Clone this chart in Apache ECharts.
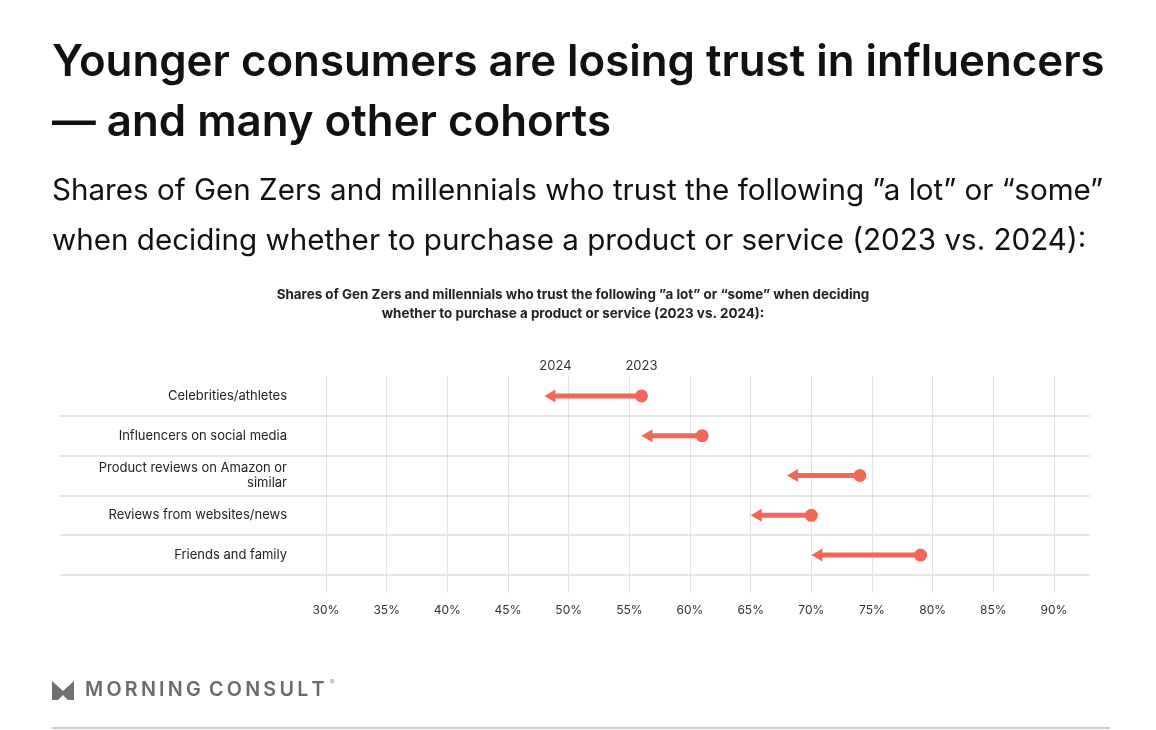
<!DOCTYPE html>
<html>
<head>
<meta charset="utf-8">
<script src="https://cdn.jsdelivr.net/npm/echarts@6/dist/echarts.min.js"></script>
<style>
  html, body { margin: 0; padding: 0; background: #fff; }
  #chart { width: 1156px; height: 730px; }
</style>
</head>
<body>
<div id="chart"></div>
<script>
const categories = [
  'Celebrities/athletes',
  'Influencers on social media',
  'Product reviews on Amazon or\nsimilar',
  'Reviews from websites/news',
  'Friends and family'
];
const share2023 = [56, 61, 74, 70, 79];
const share2024 = [48, 56, 68, 65, 70];
const xTicks = [30, 90, 5];

const FONT = 'Inter';
const RED = '#f4665a';

const chart = echarts.init(document.getElementById('chart'));

const arrowData = categories.map((c, i) => [i, share2023[i], share2024[i]]);

// letter-spaced wordmark
const spaced = s => s.split('').join('\u2009');

const option = {
  backgroundColor: '#fff',
  animation: false,
  textStyle: { fontFamily: FONT },
  title: [
    {
      text: 'Younger consumers are losing trust in influencers\n— and many other cohorts',
      left: 52, top: 33, padding: 0,
      textStyle: { fontSize: 43.8, fontWeight: 600, color: '#111', lineHeight: 60, fontFamily: FONT }
    },
    {
      text: 'Shares of Gen Zers and millennials who trust the following ”a lot” or “some”\nwhen deciding whether to purchase a product or service (2023 vs. 2024):',
      left: 52, top: 166, padding: 0,
      textStyle: { fontSize: 29.6, fontWeight: 'normal', color: '#111', lineHeight: 50, fontFamily: FONT }
    },
    {
      text: 'Shares of Gen Zers and millennials who trust the following ”a lot” or “some” when deciding\nwhether to purchase a product or service (2023 vs. 2024):',
      left: 573, top: 285, padding: 0, textAlign: 'center',
      textStyle: { fontSize: 13.4, fontWeight: 'bold', color: '#222', lineHeight: 19, fontFamily: FONT }
    }
  ],
  grid: [
    { left: 60, right: 66, top: 376, height: 199 },
    { left: 326, right: 102, top: 376, height: 199 }
  ],
  xAxis: [
    { gridIndex: 0, type: 'value', min: 0, max: 1, show: false },
    {
      gridIndex: 1, type: 'value', min: xTicks[0], max: xTicks[1], interval: xTicks[2],
      axisLine: { show: false },
      axisTick: { show: true, length: 18, lineStyle: { color: '#e3e3e3' } },
      splitLine: { show: true, lineStyle: { color: '#e3e3e3', width: 1 } },
      axisLabel: { formatter: '{value}%', margin: 29, fontSize: 12, color: '#333', fontFamily: FONT }
    }
  ],
  yAxis: [
    {
      gridIndex: 0, type: 'value', min: 0, max: 5, interval: 1, inverse: true,
      axisLine: { show: false }, axisTick: { show: false }, axisLabel: { show: false },
      splitLine: { show: true, showMinLine: false, showMaxLine: true, lineStyle: { color: '#dedede', width: 1.5 } }
    },
    {
      gridIndex: 1, type: 'category', data: categories, inverse: true,
      axisLine: { show: false }, axisTick: { show: false }, splitLine: { show: false },
      axisLabel: { margin: 39, fontSize: 13, color: '#222', lineHeight: 15, align: 'right', fontFamily: FONT }
    }
  ],
  series: [
    {
      type: 'custom',
      xAxisIndex: 1, yAxisIndex: 1,
      data: arrowData,
      encode: { x: [1, 2], y: 0 },
      renderItem: function (params, api) {
        const row = api.value(0);
        const from = api.coord([api.value(1), row]);
        const to = api.coord([api.value(2), row]);
        const headLen = 11, headHalf = 6.5;
        const children = [
          {
            type: 'line',
            shape: { x1: from[0], y1: from[1], x2: to[0] + headLen - 1, y2: to[1] },
            style: { stroke: RED, lineWidth: 5 }
          },
          {
            type: 'polygon',
            shape: { points: [[to[0], to[1]], [to[0] + headLen, to[1] - headHalf], [to[0] + headLen, to[1] + headHalf]] },
            style: { fill: RED }
          },
          {
            type: 'circle',
            shape: { cx: from[0], cy: from[1], r: 6.5 },
            style: { fill: RED }
          }
        ];
        if (params.dataIndex === 0) {
          children.push({
            type: 'text',
            style: { x: from[0], y: from[1] - 30, text: '2023', fill: '#333', font: '13px ' + FONT, align: 'center', verticalAlign: 'middle' }
          });
          children.push({
            type: 'text',
            style: { x: to[0] + 11, y: to[1] - 30, text: '2024', fill: '#333', font: '13px ' + FONT, align: 'center', verticalAlign: 'middle' }
          });
        }
        return { type: 'group', children: children };
      }
    }
  ],
  graphic: [
    {
      type: 'polygon',
      shape: { points: [[52, 681], [63, 691], [74, 681], [74, 700], [68, 700], [63, 695], [58, 700], [52, 700]] },
      style: { fill: '#707070' }
    },
    {
      type: 'text',
      left: 85, top: 680,
      style: { text: spaced('MORNING') + '\u2009 ' + spaced('CONSULT'), fill: '#6a6a6a', font: '600 19.7px ' + FONT }
    },
    {
      type: 'text',
      left: 330, top: 679,
      style: { text: '®', fill: '#888', font: '7px ' + FONT }
    },
    {
      type: 'line',
      shape: { x1: 52, y1: 728, x2: 1110, y2: 728 },
      style: { stroke: '#cccccc', lineWidth: 2 }
    }
  ]
};

chart.setOption(option);
</script>
</body>
</html>
